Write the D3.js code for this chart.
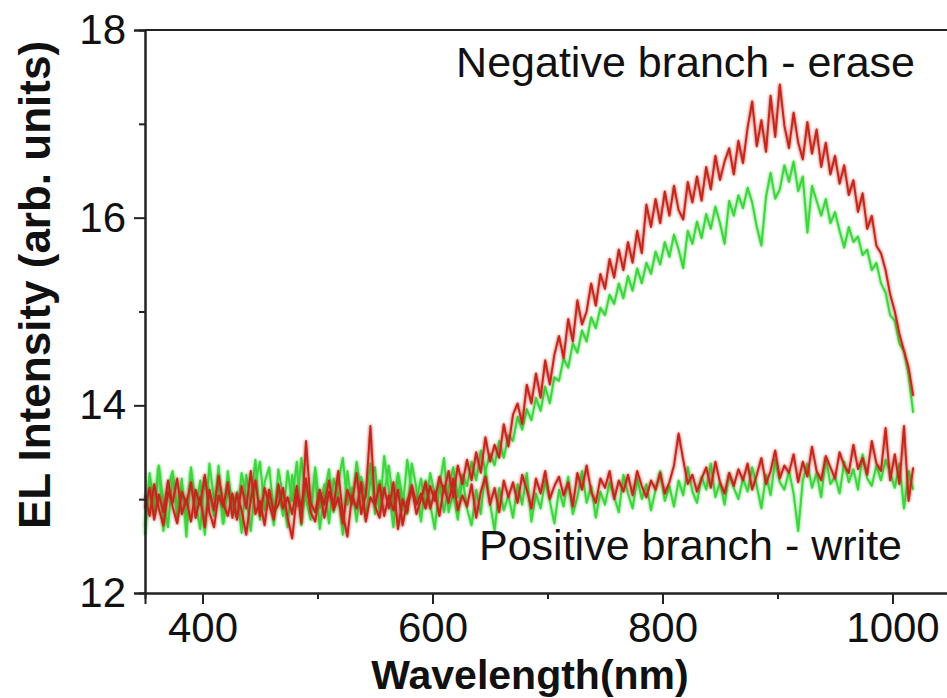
<!DOCTYPE html>
<html>
<head>
<meta charset="utf-8">
<script src="https://cdn.jsdelivr.net/npm/d3@7"></script>
<style>
  body { margin: 0; background: #fff; }
  text { font-family: Arial, "Liberation Sans", sans-serif; fill: #111; }
</style>
</head>
<body>
<div id="chart"></div>
<script>
// wavelength grid (nm), 4 nm step
var wavelength = d3.range(350, 1019, 4);

// negative branch (erase) - red
var negRed = [
  12.90, 13.12, 12.78, 13.05, 12.86, 13.20, 12.92, 12.74, 13.08, 12.95,
  13.18, 12.80, 13.02, 12.70, 13.10, 12.88, 13.25, 12.96, 12.82, 13.06,
  12.78, 13.14, 12.90, 13.30, 12.84, 12.98, 12.72, 13.10, 12.86, 12.94,
  13.12, 12.80, 12.58, 13.04, 12.92, 13.22, 12.86, 12.76, 13.08, 12.94,
  13.20, 12.88, 13.02, 12.74, 13.10, 12.96, 13.28, 12.84, 13.05, 13.78,
  12.92, 12.80, 13.12, 12.90, 13.18, 12.68, 13.00, 12.86, 13.15, 12.94,
  13.06, 12.90, 13.14, 12.98, 13.24, 13.08, 13.30, 13.02, 13.36, 13.16,
  13.42, 13.20, 13.50, 13.28, 13.66, 13.40, 13.58, 13.44, 13.80, 13.56,
  13.90, 14.02, 13.80, 14.22, 14.02, 14.34, 14.08, 14.48, 14.22, 14.54,
  14.74, 14.50, 14.92, 14.68, 15.12, 14.86, 15.00, 15.30, 15.06, 15.40,
  15.24, 15.56, 15.36, 15.66, 15.44, 15.74, 15.52, 15.86, 15.62, 16.14,
  15.90, 16.20, 15.94, 16.28, 16.02, 16.34, 16.08, 15.98, 16.38, 16.16,
  16.44, 16.18, 16.54, 16.30, 16.66, 16.40, 16.60, 16.74, 16.46, 16.82,
  16.58, 16.96, 17.24, 16.76, 17.04, 16.70, 17.30, 16.86, 17.42, 16.98,
  16.74, 17.12, 16.80, 16.62, 17.02, 16.68, 16.94, 16.54, 16.80, 16.46,
  16.66, 16.36, 16.56, 16.24, 16.40, 16.06, 16.26, 15.88, 16.02, 15.70,
  15.62, 15.44, 15.18, 15.00, 14.76, 14.58, 14.40, 14.10
];

// negative branch (erase) - green
var negGreen = [
  12.70, 13.28, 12.92, 13.36, 12.66, 13.12, 13.30, 12.80, 13.22, 12.60,
  13.34, 12.88, 13.20, 12.62, 13.38, 13.00, 13.16, 12.74, 13.30, 12.92,
  13.08, 12.64, 13.26, 12.96, 13.42, 12.78, 13.18, 13.34, 12.86, 13.10,
  12.82, 13.30, 12.98, 13.40, 12.72, 13.14, 12.90, 13.28, 12.68, 13.06,
  13.32, 12.86, 13.18, 13.44, 12.94, 13.12, 12.76, 13.24, 13.02, 13.38,
  12.84, 13.20, 13.06, 13.36, 12.96, 13.26, 12.88, 13.42, 13.10, 12.98,
  13.22, 12.90, 13.28, 13.04, 13.18, 12.86, 13.12, 13.34, 13.02, 13.26,
  13.14, 13.40, 13.20, 13.52, 13.30, 13.48, 13.36, 13.62, 13.44, 13.68,
  13.62, 13.88, 13.74, 13.96, 13.84, 14.08, 13.94, 14.20, 14.02, 14.30,
  14.26, 14.50, 14.40, 14.66, 14.56, 14.80, 14.68, 14.94, 14.82, 15.04,
  14.96, 15.18, 15.08, 15.30, 15.14, 15.38, 15.22, 15.46, 15.30, 15.52,
  15.40, 15.64, 15.50, 15.74, 15.58, 15.82, 15.66, 15.46, 15.86, 15.72,
  15.96, 15.78, 16.04, 15.88, 16.12, 15.94, 15.72, 16.18, 16.02, 16.24,
  16.10, 16.32, 16.16, 15.90, 15.70, 16.22, 16.48, 16.20, 16.30, 16.56,
  16.38, 16.60, 16.28, 16.44, 15.84, 16.34, 16.18, 16.02, 16.20, 15.94,
  16.06, 15.86, 15.68, 15.90, 15.74, 15.80, 15.60, 15.66, 15.44, 15.52,
  15.30, 15.20, 14.96, 14.90, 14.66, 14.58, 14.32, 13.92
];

// positive branch (write) - red
var posRed = [
  13.04, 12.82, 13.16, 12.90, 12.72, 13.08, 12.96, 13.22, 12.84, 13.00,
  12.76, 13.10, 12.94, 13.26, 12.86, 12.70, 13.04, 12.92, 13.18, 12.80,
  13.06, 12.88, 12.62, 13.00, 13.20, 12.82, 13.12, 12.94, 12.78, 13.16,
  12.90, 13.02, 12.84, 13.14, 12.74, 13.62, 12.96, 12.86, 13.10, 12.80,
  13.08, 12.92, 13.30, 12.84, 12.60, 13.04, 12.90, 13.18, 12.76, 13.02,
  12.94, 13.16, 12.82, 13.04, 12.88, 13.10, 12.72, 12.98, 13.12, 12.84,
  13.00, 13.18, 12.90, 13.08, 12.82, 13.14, 12.96, 13.22, 12.88, 13.04,
  12.92, 13.16, 12.80, 13.08, 13.24, 12.94, 13.12, 12.86, 13.20, 13.02,
  13.18, 12.96, 13.26, 13.10, 12.90, 13.22, 13.06, 13.30, 13.00, 13.14,
  13.24, 13.04, 13.18, 12.92, 13.28, 13.10, 13.36, 13.08, 12.96, 13.22,
  13.12, 13.30, 13.00, 13.20, 13.08, 13.26, 13.04, 13.30, 13.14, 13.02,
  13.20, 13.10, 13.28, 13.06, 13.18, 13.36, 13.70, 13.42, 13.16, 13.26,
  13.08, 13.22, 13.34, 13.12, 13.40, 13.18, 13.06, 13.28, 13.14, 13.32,
  13.20, 13.38, 13.10, 13.26, 13.44, 13.16, 13.30, 13.52, 13.22, 13.36,
  13.28, 13.48, 13.18, 13.40, 13.24, 13.56, 13.30, 13.20, 13.46, 13.34,
  13.22, 13.50, 13.36, 13.28, 13.58, 13.32, 13.44, 13.26, 13.62, 13.38,
  13.30, 13.76, 13.20, 13.48, 13.16, 13.78, 12.98, 13.34
];

// positive branch (write) - green
var posGreen = [
  12.62, 13.20, 12.84, 13.34, 12.98, 12.70, 13.26, 12.90, 13.14, 12.76,
  13.30, 12.96, 12.68, 13.24, 13.06, 12.82, 13.36, 12.74, 13.12, 12.94,
  12.80, 13.28, 13.02, 12.66, 13.18, 13.40, 12.88, 13.10, 12.72, 13.32,
  13.04, 12.70, 13.26, 12.92, 13.44, 13.00, 12.78, 13.34, 12.90, 13.16,
  12.74, 13.22, 13.06, 12.62, 13.30, 12.94, 13.40, 13.08, 12.80, 13.20,
  13.34, 12.86, 13.46, 13.10, 12.70, 13.28, 13.02, 12.84, 13.38, 13.12,
  12.76, 13.20, 12.94, 12.68, 13.14, 13.44, 12.86, 13.06, 12.78, 13.24,
  12.90, 12.72, 13.10, 12.84, 13.32, 12.96, 12.66, 13.12, 12.88, 13.04,
  12.80, 13.16, 12.94, 13.28, 12.76, 13.06, 12.90, 13.20, 12.98, 12.74,
  13.10, 12.92, 13.24, 12.84, 13.02, 13.30, 12.96, 13.14, 12.80, 13.08,
  12.94, 13.18, 13.02, 12.86, 13.26, 13.06, 12.90, 13.22, 13.00, 13.16,
  12.88, 13.10, 13.30, 12.98, 13.14, 12.92, 13.20, 13.04, 13.34, 13.08,
  12.96, 13.24, 13.10, 13.38, 13.02, 13.18, 12.94, 13.28, 13.12, 13.00,
  13.22, 13.08, 13.34, 13.14, 12.90, 13.26, 13.04, 13.42, 13.18, 13.10,
  13.30, 13.06, 12.66, 13.20, 13.38, 13.12, 13.28, 13.02, 13.44, 13.16,
  13.24, 13.06, 13.40, 13.18, 13.32, 13.10, 13.48, 13.22, 13.14, 13.36,
  13.20, 13.42, 13.28, 13.12, 13.38, 12.90, 13.30, 13.10
];

var yTicks = [12, 14, 16, 18];
var yMinor = [13, 15, 17];
var xTicks = [400, 600, 800, 1000];
var xMinor = [500, 700, 900];

var W = 947, H = 698;
var margin = {top: 30, right: -3, bottom: 105, left: 145};
var width = W - margin.left - margin.right,
    height = H - margin.top - margin.bottom;

var svg = d3.select("#chart").append("svg")
    .attr("width", W)
    .attr("height", H)
    .style("background", "#fff");

var g = svg.append("g")
    .attr("transform", "translate(" + margin.left + "," + margin.top + ")");

var xScale = d3.scaleLinear().domain([350, 1050]).range([0, width]);
var yScale = d3.scaleLinear().domain([12, 18]).range([height, 0]);

// soft glow like the original scan
var defs = svg.append("defs");
var f = defs.append("filter").attr("id", "glow")
    .attr("x", "-5%").attr("y", "-5%").attr("width", "110%").attr("height", "110%");
f.append("feGaussianBlur").attr("in", "SourceGraphic").attr("stdDeviation", 1.6).attr("result", "b");
var fm = f.append("feMerge");
fm.append("feMergeNode").attr("in", "b");
fm.append("feMergeNode").attr("in", "SourceGraphic");

var line = d3.line()
    .x(function(d) { return xScale(d[0]); })
    .y(function(d) { return yScale(d[1]); })
    .curve(d3.curveLinear);

var series = [
  {vals: posGreen, color: "#3ed43e"},
  {vals: negGreen, color: "#3ed43e"},
  {vals: posRed, color: "#c2261a"},
  {vals: negRed, color: "#c2261a"}
];

series.forEach(function(s) {
  g.append("path")
    .datum(wavelength.map(function(w, i) { return [w, s.vals[i]]; }))
    .attr("d", line)
    .attr("filter", "url(#glow)")
    .style("fill", "none")
    .style("stroke", s.color)
    .style("stroke-width", 1.9)
    .style("stroke-linejoin", "round");
});

// axes
var fmt = d3.format("d");
var x_axis = d3.axisBottom(xScale).tickValues(xTicks).tickFormat(fmt).tickSize(11).tickPadding(8);
var y_axis = d3.axisLeft(yScale).tickValues(yTicks).tickFormat(fmt).tickSize(11).tickPadding(8);

g.append("g").attr("transform", "translate(0," + height + ")").call(x_axis);
g.append("g").call(y_axis);

g.append("g").attr("transform", "translate(0," + height + ")")
  .call(d3.axisBottom(xScale).tickValues(xMinor).tickSize(6).tickFormat(""));
g.append("g")
  .call(d3.axisLeft(yScale).tickValues(yMinor).tickSize(6).tickFormat(""));

// top frame line
g.append("line")
  .attr("x1", 0).attr("x2", width).attr("y1", 0).attr("y2", 0)
  .style("stroke", "#222").style("stroke-width", 2);

g.selectAll(".domain").style("stroke", "#222").style("stroke-width", 2);
g.selectAll(".tick line").style("stroke", "#222").style("stroke-width", 2);
g.selectAll(".tick text").style("font-size", "42px").style("fill", "#111")
  .style("font-family", "Arial, 'Liberation Sans', sans-serif");

// axis titles
svg.append("text")
  .attr("transform", "translate(50,285) rotate(-90)")
  .attr("text-anchor", "middle")
  .style("font-size", "44px").style("font-weight", "bold")
  .text("EL Intensity (arb. units)");

svg.append("text")
  .attr("x", 530).attr("y", 689)
  .attr("text-anchor", "middle")
  .style("font-size", "41px").style("font-weight", "bold")
  .text("Wavelength(nm)");

// annotations
svg.append("text")
  .attr("x", 915).attr("y", 77)
  .attr("text-anchor", "end")
  .style("font-size", "43px")
  .text("Negative branch - erase");

svg.append("text")
  .attr("x", 902).attr("y", 560)
  .attr("text-anchor", "end")
  .style("font-size", "43px")
  .text("Positive branch - write");
</script>
</body>
</html>
